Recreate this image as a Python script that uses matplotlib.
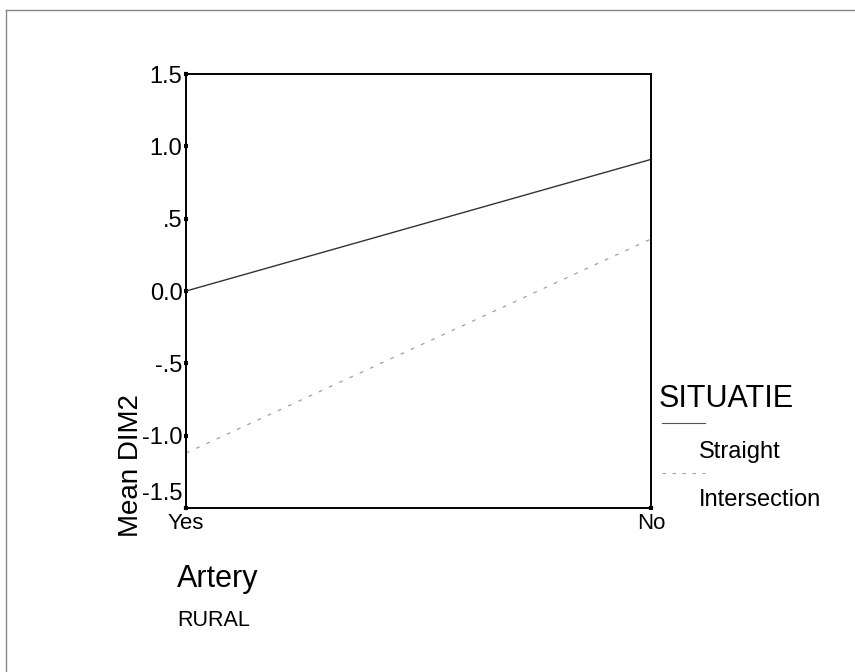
import numpy as np
import matplotlib.pyplot as plt
import matplotlib.transforms as mtransforms
from matplotlib.lines import Line2D
from matplotlib import font_manager

# mean DIM2 per artery level, one line per situation
artery = ["Yes", "No"]
straight = [0.0, 0.91]
intersection = [-1.12, 0.36]
y_ticks = [-1.5, -1.0, -0.5, 0.0, 0.5, 1.0, 1.5]
y_tick_labels = ["-1.5", "-1.0", "-.5", "0.0", ".5", "1.0", "1.5"]

names = {f.name for f in font_manager.fontManager.ttflist}
narrow = "Liberation Sans Narrow" in names
plt.rcParams['font.family'] = ['Liberation Sans', 'DejaVu Sans']

fig = plt.figure(figsize=(8.55, 6.72), dpi=100)
ax = fig.add_axes([0.2175, 0.244, 0.5439, 0.6458])

x = np.arange(len(artery))
ax.plot(x, straight, color="#333333", lw=1.0, solid_capstyle="butt")
ax.plot(x, intersection, color="#a0a0a0", lw=0.9, linestyle=(0, (3, 6)))

ax.set_xlim(0, 1)
ax.set_ylim(-1.5, 1.5)
ax.set_xticks(x)
ax.set_xticklabels(artery, fontsize=16)
ax.set_yticks(y_ticks)
ax.set_yticklabels(y_tick_labels, fontsize=17)
ax.tick_params(axis="both", length=3, width=3, direction="inout", pad=1)
ax.tick_params(axis="x", pad=2)
for s in ax.spines.values():
    s.set_linewidth(1.4)

# lowest y label sits above its tick so it clears "Yes"
low = ax.get_yticklabels()[0]
low.set_va("bottom")
low.set_transform(low.get_transform() + mtransforms.ScaledTranslation(0, 2 / 72, fig.dpi_scale_trans))

if narrow:
    ax.set_ylabel("Mean DIM2", fontsize=22, family=["Liberation Sans Narrow", "Liberation Sans"])
else:
    ax.set_ylabel("Mean DIM2", fontsize=20)
ax.yaxis.set_label_coords(-0.118, 0.097)
ax.yaxis.label.set_va("center")

# legend drawn by hand, SPSS style
fig.text(659 / 855, 1 - 407 / 672, "SITUATIE", fontsize=22, ha="left", va="baseline")
fig.add_artist(Line2D([662 / 855, 705 / 855], [1 - 423 / 672] * 2, color="#555555", lw=0.8))
fig.text(699 / 855, 1 - 458 / 672, "Straight", fontsize=17, ha="left", va="baseline")
fig.add_artist(Line2D([662 / 855, 705 / 855], [1 - 473 / 672] * 2, color="#a0a0a0", lw=0.8,
                      linestyle=(0, (3, 6))))
fig.text(699 / 855, 1 - 506 / 672, "Intersection", fontsize=17, ha="left", va="baseline")

fig.text(177 / 855, 1 - 587 / 672, "Artery", fontsize=22, ha="left", va="baseline")
fig.text(177 / 855, 1 - 626 / 672, "RURAL", fontsize=15.5, ha="left", va="baseline")

# outer frame (top and left edge only)
fig.add_artist(Line2D([6 / 855, 1.0], [1 - 10 / 672] * 2, color="#888888", lw=1.0))
fig.add_artist(Line2D([6 / 855] * 2, [0.0, 1 - 10 / 672], color="#888888", lw=1.0))

fig.savefig("out.png", dpi=100)
